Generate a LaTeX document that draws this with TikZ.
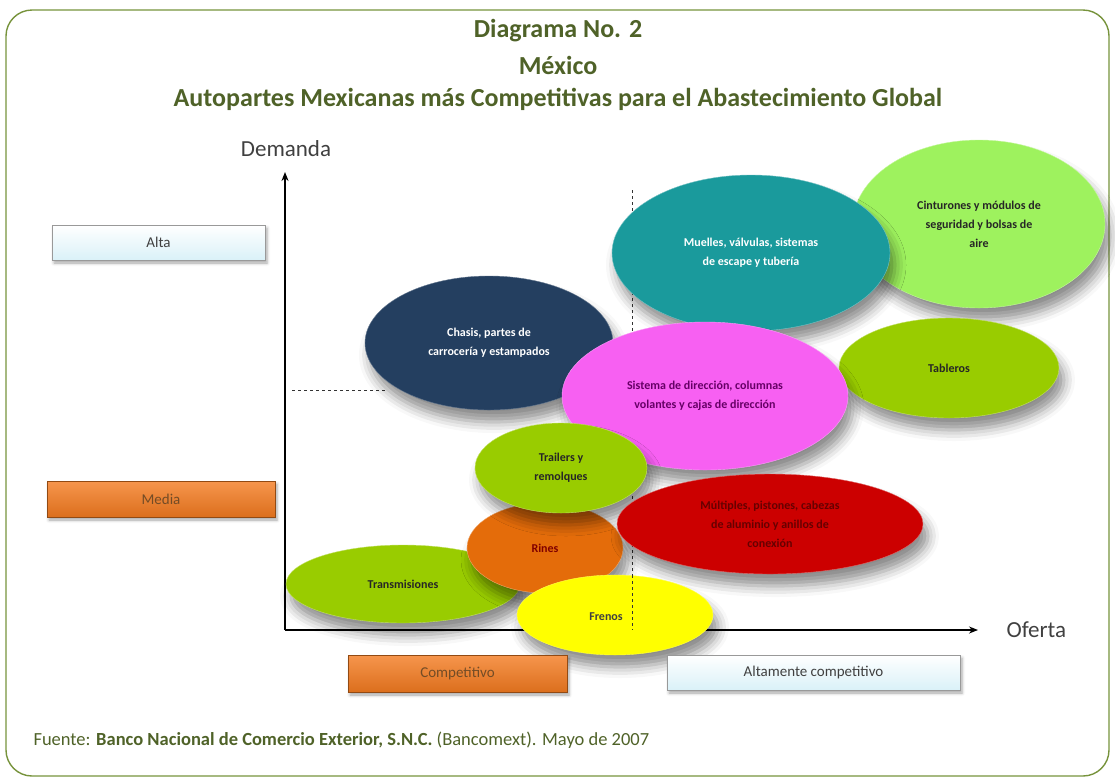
\documentclass[tikz,border=0pt]{standalone}
\usepackage{fontspec}
\setmainfont{Carlito}
\usetikzlibrary{shapes.geometric,arrows.meta,shadows.blur}
\definecolor{framegreen}{HTML}{77933C}
\definecolor{titlegreen}{HTML}{4F6228}
\definecolor{axisgray}{HTML}{404040}
\definecolor{navy}{HTML}{243F60}
\definecolor{tealc}{HTML}{1A9A9C}
\definecolor{lightgreen}{HTML}{9EF25E}
\definecolor{magentac}{HTML}{F760F2}
\definecolor{olivec}{HTML}{99CC00}
\definecolor{orangec}{HTML}{E46C0A}
\definecolor{redc}{HTML}{CC0000}
\definecolor{yellowc}{HTML}{FFFF00}
\definecolor{boxcyan}{HTML}{DAF1F8}
\definecolor{boxorange}{HTML}{F47B20}
\begin{document}
\begin{tikzpicture}[x=1pt,y=-1pt,
  frame/.style={draw=framegreen,line width=1.4pt,rounded corners=26pt},
  titletext/.style={text=titlegreen,font=\fontsize{26}{30}\selectfont\bfseries},
  axislabel/.style={text=axisgray,font=\fontsize{23}{26}\selectfont},
  axisline/.style={line width=1.8pt,-{Stealth[length=9pt,width=7pt]}},
  guide/.style={dashed,line width=0.8pt,draw=black!80},
  bubble/.style={ellipse,inner sep=0pt,align=center,
    font=\fontsize{12}{19}\selectfont\bfseries,
    blur shadow={shadow xshift=5pt,shadow yshift=-12pt,shadow blur radius=11pt,shadow opacity=45}},
  levelbox/.style={rectangle,inner sep=0pt,font=\fontsize{15}{17}\selectfont,
    blur shadow={shadow xshift=2pt,shadow yshift=-3pt,shadow blur radius=3pt,shadow opacity=35}},
  cyanbox/.style={levelbox,top color=white,bottom color=boxcyan,draw=gray!80,text=axisgray},
  orangebox/.style={levelbox,top color=boxorange!80!white,bottom color=boxorange!90!black,draw=boxorange!60!black,text=brown!60!black},
]
\useasboundingbox (0,0) rectangle (1115,780);
\draw[frame] (6,10) rectangle (1109,776);

\node[titletext] (t1) at (558,31) {Diagrama No. 2};
\node[titletext] (t2) at (558,65) {México};
\node[titletext] (t3) at (558,99) {Autopartes Mexicanas más Competitivas para el Abastecimiento Global};

% axes
\coordinate (origin) at (285,630);
\coordinate (ytip) at (285,172);
\coordinate (xtip) at (978,630);
\draw[axisline] (origin) -- (ytip);
\draw[axisline] (origin) -- (xtip);
\node[axislabel] (demanda) at (286,149) {Demanda};
\node[axislabel,anchor=west] (oferta) at (1003,630) {Oferta};

% guides
\coordinate (hg1) at (292,390);
\coordinate (hg2) at (385,390);
\coordinate (vg1) at (632,190);
\coordinate (vg2) at (632,630);
\coordinate (vg3) at (632,575);
\draw[guide] (hg1) -- (hg2);
\draw[guide] (vg1) -- (vg2);

% bubbles
\node[bubble,fill=navy,draw=navy!70!white,text=white,minimum width=248pt,minimum height=134pt] (chasis) at (489,343) {Chasis, partes de\\carrocería y estampados};
\node[bubble,fill=lightgreen,draw=lightgreen!60!white,text=black!85,minimum width=252pt,minimum height=168pt] (cint) at (979,224) {Cinturones y módulos de\\seguridad y bolsas de\\aire};
\node[bubble,fill=tealc,draw=tealc!60!white,text=white,minimum width=278pt,minimum height=156pt] (muelles) at (751,253) {Muelles, válvulas, sistemas\\de escape y tubería};
\node[bubble,fill=olivec,draw=olivec!60!white,text=black!85,minimum width=220pt,minimum height=100pt] (tableros) at (949,368) {Tableros};
\node[bubble,fill=magentac,draw=magentac!60!white,text=violet!80!black,minimum width=286pt,minimum height=148pt] (direccion) at (705,396) {Sistema de dirección, columnas\\volantes y cajas de dirección};
\node[bubble,fill=olivec,draw=olivec!60!white,text=black!85,minimum width=234pt,minimum height=78pt] (transm) at (403,584) {Transmisiones};
\node[bubble,fill=orangec,draw=orangec!60!white,text=red!50!black,minimum width=156pt,minimum height=90pt] (rines) at (545,548) {Rines};
\node[bubble,fill=olivec,draw=olivec!60!white,text=black!85,minimum width=172pt,minimum height=90pt] (trailers) at (561,468) {Trailers y\\remolques};
\node[bubble,fill=redc,draw=redc!60!white,text=red!40!black,minimum width=306pt,minimum height=100pt] (multiples) at (770,524) {Múltiples, pistones, cabezas\\de aluminio y anillos de\\conexión};
\node[bubble,fill=yellowc,draw=yellowc!70!white,text=black!75,minimum width=196pt,minimum height=80pt] (frenos) at (615,615) {};
\node[font=\fontsize{12}{14}\selectfont\bfseries,text=black!75] (frenoslbl) at (606,617) {Frenos};
\draw[guide] (vg3) -- (vg2);

% level boxes
\node[cyanbox,minimum width=213pt,minimum height=35pt] (alta) at (158.5,242.5) {Alta};
\node[orangebox,minimum width=228pt,minimum height=36pt] (media) at (161,499) {Media};
\node[orangebox,minimum width=219pt,minimum height=37pt] (compet) at (457.5,673.5) {Competitivo};
\node[cyanbox,minimum width=293pt,minimum height=35pt] (altcomp) at (813.5,672.5) {Altamente competitivo};

% source
\node[anchor=west,text=titlegreen,font=\fontsize{18.5}{21}\selectfont] (fuente) at (30,740) {Fuente: \textbf{Banco Nacional de Comercio Exterior, S.N.C.} (Bancomext). Mayo de 2007};
\end{tikzpicture}
\end{document}
